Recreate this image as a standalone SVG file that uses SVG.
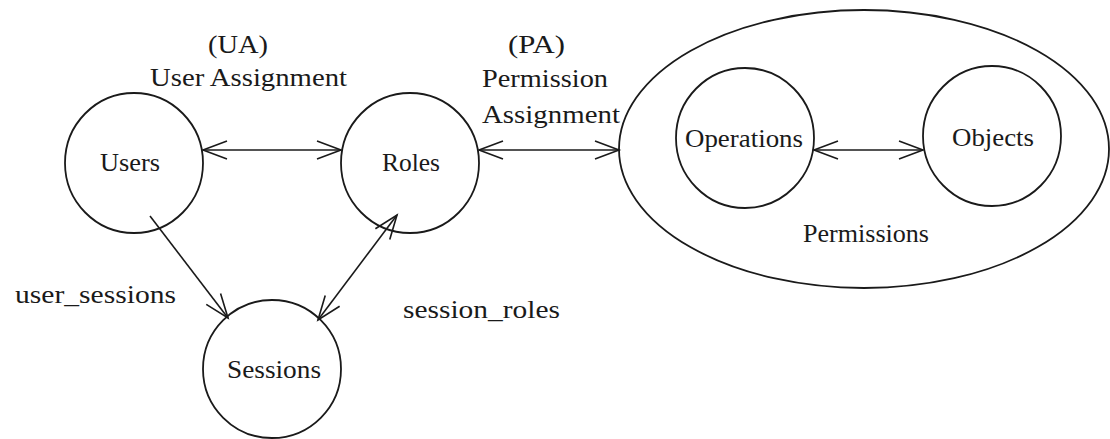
<svg xmlns="http://www.w3.org/2000/svg" width="1110" height="439" viewBox="0 0 1110 439">
  <defs>
    <style>
      .node { fill: none; stroke: #1a1a1a; stroke-width: 1.8; }
      .edge { fill: none; stroke: #1a1a1a; stroke-width: 1.6; }
      text { font-family: "Liberation Serif", "Times New Roman", serif; font-size: 26px; fill: #1a1a1a; }
    </style>
    <!-- open V arrowhead, reversed automatically at line starts -->
    <marker id="arrow" markerUnits="userSpaceOnUse" orient="auto-start-reverse"
            markerWidth="1" markerHeight="1" refX="0" refY="0" overflow="visible">
      <path d="M-24,-9 L0,0 L-24,9" fill="none" stroke="#1a1a1a" stroke-width="1.6"/>
    </marker>
  </defs>

  <rect width="1110" height="439" fill="#ffffff"/>

  <!-- relation labels -->
  <g id="labels">
    <text x="208" y="53" textLength="60" lengthAdjust="spacingAndGlyphs">(UA)</text>
    <text x="150" y="86" textLength="197" lengthAdjust="spacingAndGlyphs">User Assignment</text>
    <text x="508" y="53" textLength="57" lengthAdjust="spacingAndGlyphs">(PA)</text>
    <text x="482" y="87" textLength="126" lengthAdjust="spacingAndGlyphs">Permission</text>
    <text x="482" y="123" textLength="138" lengthAdjust="spacingAndGlyphs">Assignment</text>
    <text x="15" y="303" textLength="161" lengthAdjust="spacingAndGlyphs">user_sessions</text>
    <text x="403" y="318" textLength="157" lengthAdjust="spacingAndGlyphs">session_roles</text>
  </g>

  <g id="node-users">
    <ellipse class="node" cx="134" cy="163" rx="69" ry="70"/>
    <text x="100" y="171" textLength="60" lengthAdjust="spacingAndGlyphs">Users</text>
  </g>

  <g id="node-roles">
    <ellipse class="node" cx="410" cy="163" rx="69" ry="70"/>
    <text x="382" y="171" textLength="58" lengthAdjust="spacingAndGlyphs">Roles</text>
  </g>

  <g id="node-sessions">
    <ellipse class="node" cx="272" cy="369" rx="69" ry="69"/>
    <text x="227" y="378" textLength="94" lengthAdjust="spacingAndGlyphs">Sessions</text>
  </g>

  <g id="node-permissions">
    <ellipse class="node" cx="864" cy="149" rx="245" ry="139"/>
    <text x="803" y="242" textLength="126" lengthAdjust="spacingAndGlyphs">Permissions</text>
  </g>

  <g id="node-operations">
    <ellipse class="node" cx="745" cy="138" rx="69" ry="70"/>
    <text x="685" y="147" textLength="118" lengthAdjust="spacingAndGlyphs">Operations</text>
  </g>

  <g id="node-objects">
    <ellipse class="node" cx="992" cy="136" rx="69" ry="70"/>
    <text x="952" y="146" textLength="82" lengthAdjust="spacingAndGlyphs">Objects</text>
  </g>

  <g id="connectors">
    <!-- UA: Users <-> Roles -->
    <line class="edge" x1="203" y1="150" x2="341" y2="150" marker-start="url(#arrow)" marker-end="url(#arrow)"/>
    <!-- PA: Roles <-> Permissions -->
    <line class="edge" x1="479" y1="150" x2="619" y2="150" marker-start="url(#arrow)" marker-end="url(#arrow)"/>
    <!-- Operations <-> Objects -->
    <line class="edge" x1="814" y1="150" x2="923" y2="150" marker-start="url(#arrow)" marker-end="url(#arrow)"/>
    <!-- user_sessions: Users -> Sessions -->
    <line class="edge" x1="150" y1="216" x2="228" y2="318" marker-end="url(#arrow)"/>
    <!-- session_roles: Sessions <-> Roles -->
    <line class="edge" x1="318" y1="320" x2="397" y2="215" marker-start="url(#arrow)" marker-end="url(#arrow)"/>
  </g>
</svg>
